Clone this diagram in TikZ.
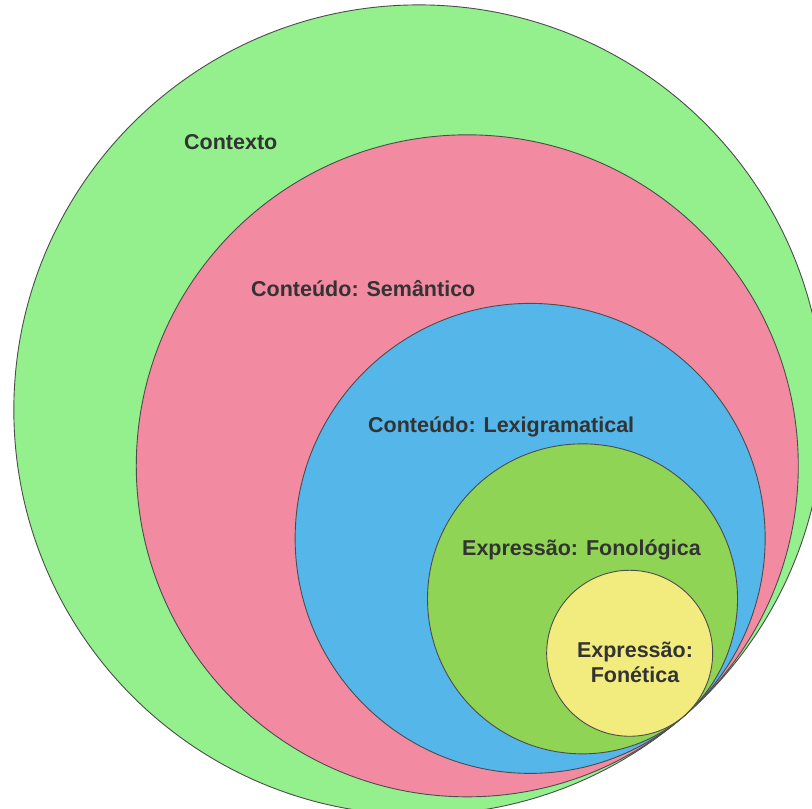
\documentclass[tikz,border=0pt]{standalone}
\usepackage{fontspec}
\setmainfont{Liberation Sans}
\usetikzlibrary{calc}

\definecolor{ctxgreen}{RGB}{147,240,141}
\definecolor{sempink}{RGB}{242,139,162}
\definecolor{lexblue}{RGB}{84,182,233}
\definecolor{fonogreen}{RGB}{143,212,84}
\definecolor{fonyellow}{RGB}{242,236,126}
\definecolor{lbltext}{RGB}{51,51,51}

\begin{document}
\begin{tikzpicture}[x=1pt,y=-1pt,
	ring/.style={draw=black!70, line width=0.9pt},
	lbl/.style={font=\fontsize{21.5}{25}\selectfont\bfseries, text=lbltext, inner sep=0pt}]
	
	\useasboundingbox (0,0) rectangle (812,809);
	\fill[white] (0,0) rectangle (812,809);
	\clip (0,0) rectangle (812,809);
	
	% Circles, all touching at (t)
	\coordinate (t) at (684,716);
	\foreach \r/\col in {405/ctxgreen, 331/sempink, 235/lexblue, 155/fonogreen, 83/fonyellow}
		\draw[ring, fill=\col] ($(t)+(229.1:\r)$) circle[radius=\r pt];
	
	% Labels
	\node[lbl, anchor=west] (contexto) at (184,142) {Contexto};
	\node[lbl, anchor=west] (semantico) at (251,289) {Conteúdo: Semântico};
	\node[lbl, anchor=west] (lexico) at (368,427) {Conteúdo: Lexigramatical};
	\node[lbl, anchor=west] (fonologica) at (462,550) {Expressão: Fonológica};
	\node[lbl, align=center] (fonetica) at (635,662) {Expressão:\\Fonética};
	
\end{tikzpicture}
\end{document}
